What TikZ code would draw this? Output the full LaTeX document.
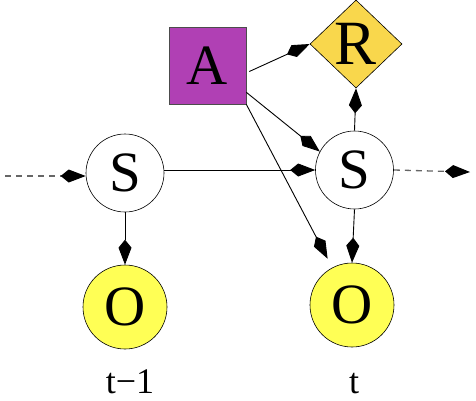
\documentclass[tikz,border=0pt]{standalone}
\usepackage{fontspec}
\setmainfont{Liberation Serif}
\usetikzlibrary{arrows.meta,shapes.geometric}
\definecolor{apurple}{RGB}{176,64,180}
\definecolor{ryellow}{RGB}{249,215,76}
\definecolor{oyellow}{RGB}{255,255,85}
\tikzset{
  kt/.style={-{Kite[length=25pt,width=13pt,inset=8pt,color=black]}},
  edge/.style={kt,line width=0.9pt,draw=black},
  dashedge/.style={kt,line width=1.3pt,draw=black!60,dash pattern=on 6pt off 5pt},
  statenode/.style={circle,draw,line width=0.6pt,minimum size=78pt,inner sep=0pt,font=\fontsize{57}{57}\selectfont},
  obsnode/.style={circle,draw,line width=0.6pt,fill=oyellow,minimum size=84pt,inner sep=0pt,font=\fontsize{57}{57}\selectfont},
  actnode/.style={rectangle,draw=black!70,line width=0.6pt,fill=apurple,minimum size=77pt,inner sep=0pt,font=\fontsize{57}{57}\selectfont},
  rewnode/.style={diamond,draw,line width=0.6pt,fill=ryellow,minimum width=92pt,minimum height=88pt,inner sep=0pt,font=\fontsize{63}{63}\selectfont},
  timelabel/.style={anchor=base,inner sep=0pt,font=\fontsize{36}{36}\selectfont}
}
\begin{document}
\begin{tikzpicture}[x=1pt,y=-1pt]
\useasboundingbox (0,0) rectangle (476,400);
\node[actnode] (A) at (207.5,65.5) {A};
\node[rewnode] (R) at (356,44) {R};
\node[statenode] (S1) at (125,173) {S};
\node[statenode] (S2) at (354.5,170) {S};
\node[obsnode] (O1) at (125,307) {O};
\node[obsnode] (O2) at (352,305) {O};
\node[timelabel] (L1) at (130,393) {t−1};
\node[timelabel] (L2) at (354,393) {t};
\coordinate (in) at (5,176);
\coordinate (out) at (470,172);
\draw[dashedge] (in) -- (S1.west |- in);
\draw[dashedge] (S2.east) -- (out);
\draw[edge] ([shift={(0,-3)}]S1.east) -- (S2.west);
\draw[edge] (S1.south) -- (O1.north);
\draw[edge] (S2.south) -- (O2.north);
\draw[edge] (S2.north) -- (R.south);
\draw[edge] ([shift={(3,6)}]A.east) -- (R.west);
\draw[edge] ([shift={(0,-12)}]A.south east) -- (S2.152);
\draw[edge,shorten >=10pt] (A.south east) -- (O2);
\end{tikzpicture}
\end{document}
